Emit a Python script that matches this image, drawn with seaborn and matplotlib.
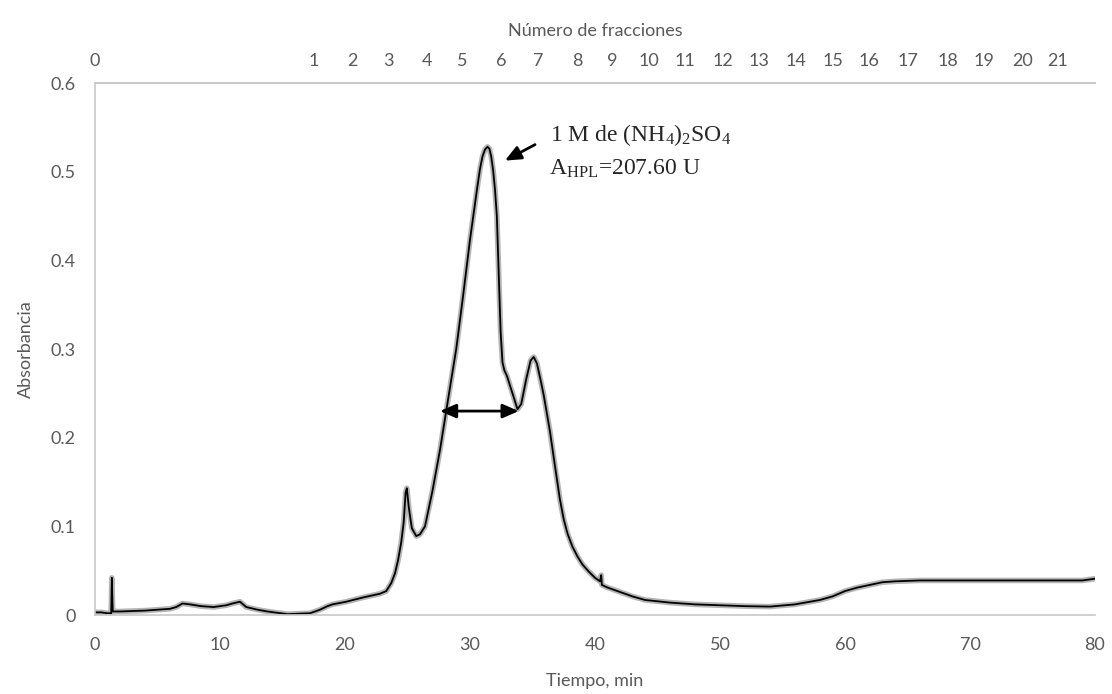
import pandas as pd
import matplotlib.pyplot as plt
import matplotlib.patheffects as pe
import seaborn as sns

# chromatogram
tiempo = [0, 0.5, 1.0, 1.3, 1.35, 1.42, 2, 4, 6, 6.5, 7.0, 7.6, 8.5, 9.5, 10.5, 11.0, 11.6,
          12.1, 13, 13.8, 15.4, 17.2, 18.0, 18.6, 19.0, 20.1, 21.5, 22.8, 23.3, 23.7, 24.0,
          24.25, 24.5, 24.7, 24.85, 24.95, 25.1, 25.35, 25.7, 26.0, 26.4, 27.0, 27.6, 28.2,
          28.9, 29.45, 30.0, 30.55, 30.8, 31.0, 31.2, 31.4, 31.55, 31.7, 31.85, 32.0, 32.15,
          32.3, 32.45, 32.6, 32.75, 32.95, 33.4, 33.8, 34.1, 34.5, 34.85, 35.1, 35.35, 35.65,
          35.9, 36.4, 36.8, 37.2, 37.5, 37.8, 38.2, 38.6, 39.0, 39.5, 40.0, 40.4, 40.5, 40.55,
          41, 42, 43, 44, 46, 48, 50, 52, 54, 56, 58, 59, 60, 61, 62, 63, 64, 66, 70, 75, 79, 80]
absorbancia = [0.003, 0.003, 0.002, 0.002, 0.042, 0.004, 0.004, 0.005, 0.007, 0.009, 0.013,
               0.012, 0.010, 0.009, 0.011, 0.013, 0.015, 0.009, 0.006, 0.004, 0.001, 0.002,
               0.006, 0.010, 0.012, 0.015, 0.020, 0.024, 0.027, 0.036, 0.047, 0.062, 0.082,
               0.105, 0.138, 0.143, 0.122, 0.098, 0.089, 0.091, 0.100, 0.140, 0.186, 0.239,
               0.300, 0.360, 0.423, 0.479, 0.503, 0.517, 0.525, 0.528, 0.526, 0.517, 0.502,
               0.480, 0.450, 0.385, 0.320, 0.285, 0.276, 0.270, 0.250, 0.232, 0.238, 0.266,
               0.287, 0.291, 0.284, 0.265, 0.248, 0.207, 0.168, 0.130, 0.108, 0.092, 0.077,
               0.066, 0.057, 0.049, 0.042, 0.038, 0.045, 0.034, 0.031, 0.026, 0.021, 0.017,
               0.014, 0.012, 0.011, 0.010, 0.0095, 0.012, 0.017, 0.021, 0.027, 0.031, 0.034,
               0.037, 0.038, 0.039, 0.039, 0.039, 0.039, 0.041]

# top axis: fraction numbers and where they sit on the time axis
fraccion_pos = [0, 17.5, 20.6, 23.5, 26.6, 29.4, 32.5, 35.5, 38.6, 41.4, 44.3, 47.2, 50.2,
                53.1, 56.1, 59.0, 61.9, 65.0, 68.2, 71.1, 74.2, 77.0]
fraccion_lbl = [str(i) for i in range(22)]

df = pd.DataFrame({"Tiempo": tiempo, "Abs": absorbancia})

sns.set_theme(style="white")
plt.rcParams["font.family"] = ["Lato", "DejaVu Sans"]
plt.rcParams["mathtext.fontset"] = "custom"
plt.rcParams["mathtext.rm"] = "Liberation Serif"
plt.rcParams["mathtext.it"] = "Liberation Serif:italic"

gris = "#595959"
fig = plt.figure(figsize=(11.12, 6.94), dpi=100)
ax = fig.add_axes([0.0854, 0.1138, 0.8993, 0.7666])

sns.lineplot(data=df, x="Tiempo", y="Abs", ax=ax, color="black", linewidth=1.3,
             path_effects=[pe.Stroke(linewidth=4, foreground="#b5b5b5"), pe.Normal()])

ax.set_xlim(0, 80)
ax.set_ylim(0, 0.6)
ax.set_xticks(range(0, 81, 10))
ax.set_yticks([0, 0.1, 0.2, 0.3, 0.4, 0.5, 0.6])
ax.set_yticklabels(["0", "0.1", "0.2", "0.3", "0.4", "0.5", "0.6"])
ax.tick_params(axis="x", length=0, pad=16, labelsize=13, labelcolor=gris)
ax.tick_params(axis="y", length=0, pad=14, labelsize=13, labelcolor=gris)
ax.set_xlabel("Tiempo, min", fontsize=13, color=gris, labelpad=14)
ax.set_ylabel("Absorbancia", fontsize=13, color=gris, labelpad=12)

for s in ["left", "bottom", "top"]:
    ax.spines[s].set_color("#c8c8c8")
    ax.spines[s].set_linewidth(1.2)
ax.spines["right"].set_visible(False)

top = ax.secondary_xaxis("top")
top.set_xticks(fraccion_pos)
top.set_xticklabels(fraccion_lbl)
top.tick_params(length=0, pad=10, labelsize=13, labelcolor=gris)
top.spines["top"].set_color("#c8c8c8")
top.set_xlabel("Número de fracciones", fontsize=13, color=gris, labelpad=12)

# annotations
ax.annotate("", xy=(32.6, 0.511), xytext=(35.4, 0.532),
            arrowprops=dict(arrowstyle="-|>,head_length=0.8,head_width=0.35", color="black", lw=2))
ax.annotate("", xy=(27.6, 0.230), xytext=(33.9, 0.230),
            arrowprops=dict(arrowstyle="<|-|>,head_length=0.8,head_width=0.35", color="black",
                            lw=2, shrinkA=0, shrinkB=0))
ax.text(36.4, 0.541, r"1 M de (NH$_4$)$_2$SO$_4$", fontsize=17, va="center", ha="left",
        family="Liberation Serif")
ax.text(36.3, 0.503, r"A$_{\mathrm{HPL}}$=207.60 U", fontsize=17, va="center", ha="left",
        family="Liberation Serif")

fig.savefig("out.png", dpi=100)
